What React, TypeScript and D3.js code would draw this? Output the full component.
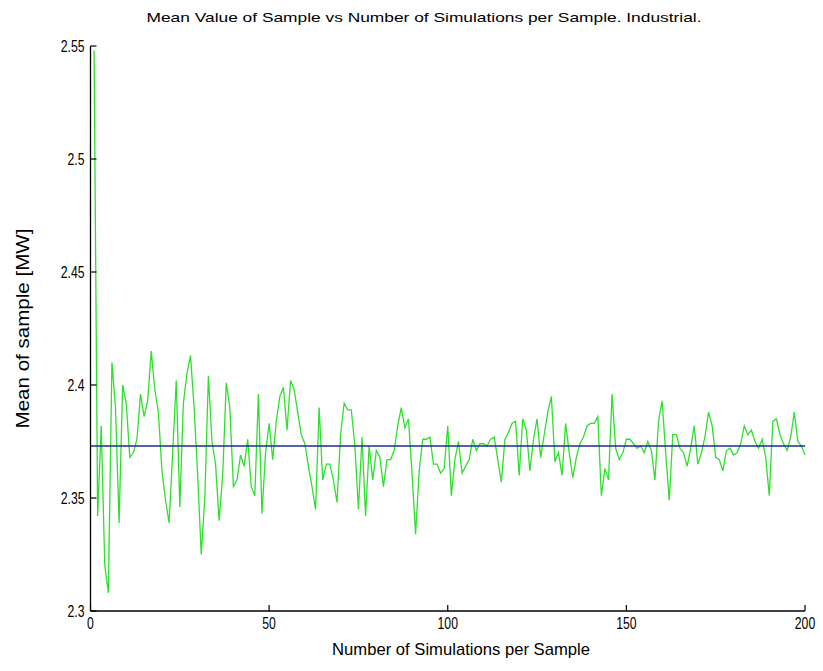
import React from "react";
import * as d3 from "d3";

// Mean of each sample, for sample sizes 1..200
const sampleMeans: number[] = [
  2.548, 2.342, 2.382, 2.320, 2.308, 2.410, 2.390, 2.339, 2.400, 2.392,
  2.368, 2.370, 2.376, 2.396, 2.386, 2.393, 2.415, 2.398, 2.388, 2.362,
  2.349, 2.339, 2.370, 2.402, 2.346, 2.392, 2.405, 2.413, 2.390, 2.360,
  2.325, 2.350, 2.404, 2.375, 2.365, 2.340, 2.360, 2.401, 2.390, 2.355,
  2.358, 2.369, 2.364, 2.376, 2.355, 2.351, 2.396, 2.343, 2.370, 2.383,
  2.367, 2.384, 2.395, 2.399, 2.380, 2.402, 2.398, 2.388, 2.378, 2.374,
  2.364, 2.355, 2.345, 2.390, 2.358, 2.365, 2.365, 2.358, 2.348, 2.378,
  2.392, 2.389, 2.389, 2.373, 2.345, 2.377, 2.342, 2.373, 2.358, 2.371,
  2.368, 2.355, 2.367, 2.367, 2.371, 2.382, 2.390, 2.381, 2.385, 2.361,
  2.334, 2.362, 2.376, 2.376, 2.377, 2.365, 2.365, 2.361, 2.363, 2.382,
  2.351, 2.367, 2.375, 2.361, 2.364, 2.367, 2.376, 2.371, 2.374, 2.374,
  2.373, 2.376, 2.377, 2.367, 2.357, 2.376, 2.379, 2.383, 2.384, 2.360,
  2.385, 2.380, 2.362, 2.376, 2.385, 2.368, 2.378, 2.388, 2.395, 2.366,
  2.370, 2.360, 2.383, 2.370, 2.359, 2.368, 2.374, 2.377, 2.382, 2.383,
  2.383, 2.386, 2.351, 2.363, 2.358, 2.396, 2.372, 2.367, 2.370, 2.376,
  2.376, 2.374, 2.372, 2.373, 2.370, 2.375, 2.371, 2.358, 2.384, 2.393,
  2.370, 2.349, 2.378, 2.378, 2.372, 2.370, 2.364, 2.372, 2.382, 2.365,
  2.370, 2.377, 2.388, 2.382, 2.368, 2.367, 2.362, 2.371, 2.372, 2.369,
  2.370, 2.374, 2.382, 2.378, 2.380, 2.375, 2.372, 2.376, 2.368, 2.351,
  2.384, 2.385, 2.378, 2.374, 2.371, 2.377, 2.388, 2.375, 2.373, 2.369,
];

// Overall mean drawn as a reference line
const overallMean = 2.373;

const xTicks: number[] = [0, 50, 100, 150, 200];
const yTicks: number[] = [2.3, 2.35, 2.4, 2.45, 2.5, 2.55];
const yTickLabels: string[] = ["2.3", "2.35", "2.4", "2.45", "2.5", "2.55"];

const titleText = "Mean Value of Sample vs Number of Simulations per Sample. Industrial.";
const xLabel = "Number of Simulations per Sample";
const yLabel = "Mean of sample [MW]";

const W = 823;
const H = 671;
const left = 90.5;
const right = 805;
const top = 46;
const bottom = 611;

const FONT = "'Liberation Sans', Arial, sans-serif";

export default function App() {
  const x = d3.scaleLinear().domain([0, 200]).range([left, right]);
  const y = d3.scaleLinear().domain([2.3, 2.55]).range([bottom, top]);

  const points: [number, number][] = sampleMeans.map((v, i) => [i + 1, v]);
  const line = d3
    .line<[number, number]>()
    .x((d) => x(d[0]))
    .y((d) => y(d[1]));

  const tickLen = 6;

  return (
    <svg
      width={W}
      height={H}
      style={{ position: "absolute", left: 0, top: 0, background: "#fff" }}
      fontFamily={FONT}
    >
      <rect x={0} y={0} width={W} height={H} fill="#fff" />

      {/* title */}
      <text
        x={424}
        y={22}
        fontSize={13}
        textAnchor="middle"
        textLength={555}
        lengthAdjust="spacingAndGlyphs"
        fill="#000"
      >
        {titleText}
      </text>

      {/* data series */}
      <path d={line(points) || ""} fill="none" stroke="#2ee02e" strokeWidth={1.3} />

      {/* mean line */}
      <line
        x1={x(0)}
        x2={x(200)}
        y1={y(overallMean)}
        y2={y(overallMean)}
        stroke="#1c2a9a"
        strokeWidth={1.6}
      />

      {/* axes */}
      <line x1={left} x2={left} y1={top} y2={bottom} stroke="#000" strokeWidth={1.3} />
      <line x1={left} x2={right} y1={bottom} y2={bottom} stroke="#000" strokeWidth={1.3} />

      {xTicks.map((t) => (
        <g key={"xt" + t}>
          <line x1={x(t)} x2={x(t)} y1={bottom} y2={bottom - tickLen} stroke="#000" strokeWidth={1.2} />
          <text
            transform={`translate(${x(t)},${bottom + 18}) scale(0.72,1)`}
            fontSize={17}
            textAnchor="middle"
            fill="#000"
          >
            {t}
          </text>
        </g>
      ))}

      {yTicks.map((t, i) => (
        <g key={"yt" + t}>
          <line x1={left} x2={left + tickLen} y1={y(t)} y2={y(t)} stroke="#000" strokeWidth={1.2} />
          <text
            transform={`translate(${left - 6},${y(t) + 6}) scale(0.72,1)`}
            fontSize={17}
            textAnchor="end"
            fill="#000"
          >
            {yTickLabels[i]}
          </text>
        </g>
      ))}

      {/* axis labels */}
      <text
        x={461}
        y={655}
        fontSize={17}
        textAnchor="middle"
        textLength={258}
        lengthAdjust="spacingAndGlyphs"
        fill="#000"
      >
        {xLabel}
      </text>
      <text
        transform={`translate(29,${(top + bottom) / 2}) rotate(-90)`}
        fontSize={18}
        textAnchor="middle"
        textLength={200}
        lengthAdjust="spacingAndGlyphs"
        fill="#000"
      >
        {yLabel}
      </text>
    </svg>
  );
}
